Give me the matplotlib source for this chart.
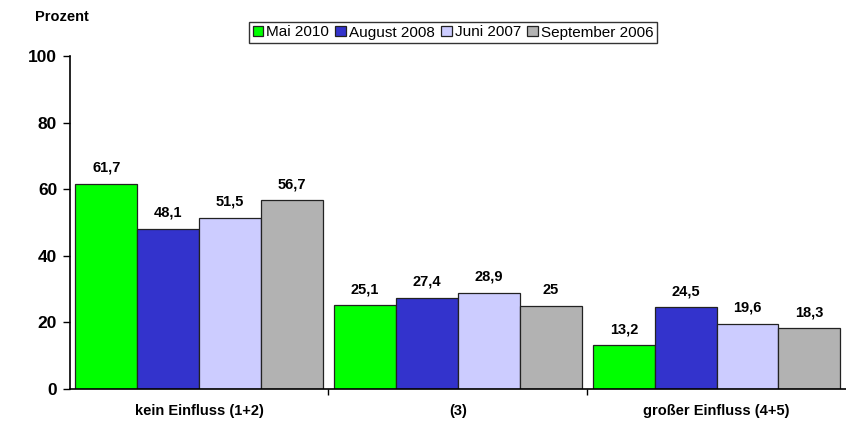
import numpy as np
import matplotlib.pyplot as plt

plt.rcParams['font.family'] = ['Liberation Sans', 'DejaVu Sans']

categories = ["kein Einfluss (1+2)", "(3)", "großer Einfluss (4+5)"]
series_names = ["Mai 2010", "August 2008", "Juni 2007", "September 2006"]
mai_2010 = [61.7, 25.1, 13.2]
aug_2008 = [48.1, 27.4, 24.5]
jun_2007 = [51.5, 28.9, 19.6]
sep_2006 = [56.7, 25.0, 18.3]
colors = ['#00FF00', '#3333CC', '#CCCCFF', '#B2B2B2']

fig = plt.figure(figsize=(8.46, 4.23), dpi=100)
ax = fig.add_axes([69.7 / 846, 34 / 423, 1 - 69.7 / 846, 333 / 423])

x = np.arange(len(categories))
width = 0.239
for i, (vals, name) in enumerate(zip([mai_2010, aug_2008, jun_2007, sep_2006], series_names)):
    pos = x + (i - 1.5) * width
    ax.bar(pos, vals, width, color=colors[i], edgecolor='#222222', linewidth=0.9, label=name)
    for p, v in zip(pos, vals):
        txt = ('%g' % v).replace('.', ',')
        ax.annotate(txt, (p, v), xytext=(0, 11.5), textcoords='offset points',
                    ha='center', va='center', fontsize=10.5, fontweight='bold')

ax.set_xlim(-0.5, 2.5)
ax.set_ylim(0, 100)
ax.set_yticks(range(0, 101, 20))
ax.tick_params(axis='y', labelsize=12.5, length=5, width=1, direction='out', pad=4)
for t in ax.get_yticklabels():
    t.set_fontweight('bold')

# category labels centred, tick marks between groups
ax.set_xticks([0.5, 1.5])
ax.set_xticklabels([])
ax.tick_params(axis='x', length=4, width=1, direction='out')
for xi, c in zip(x, categories):
    ax.text(xi, -6.5, c, ha='center', va='center', fontsize=10.5, fontweight='bold',
            transform=ax.transData)

ax.spines['top'].set_visible(False)
ax.spines['right'].set_visible(False)
ax.spines['left'].set_linewidth(1.2)
ax.spines['bottom'].set_linewidth(1.2)

fig.text(35 / 846, 1 - 17 / 423, "Prozent", fontsize=10.5, fontweight='bold', va='center')

leg = fig.legend(loc='center', bbox_to_anchor=(453 / 846, 1 - 32.5 / 423), ncol=4,
                 fontsize=11, frameon=True, fancybox=False, edgecolor='black',
                 handlelength=0.7, handleheight=0.7, handletextpad=0.2,
                 columnspacing=0.4, borderpad=0.25, borderaxespad=0)
leg.get_frame().set_linewidth(1)

fig.savefig('out.png', dpi=100)
